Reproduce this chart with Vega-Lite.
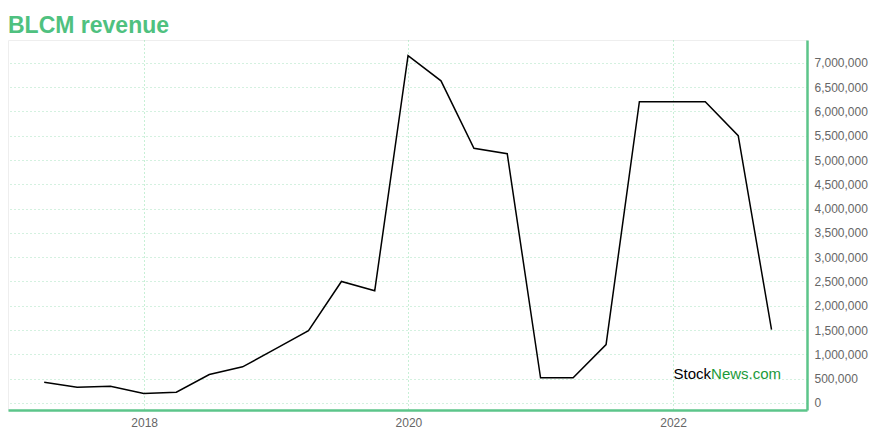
{
  "$schema": "https://vega.github.io/schema/vega-lite/v6.json",
  "width": 799,
  "height": 370,
  "autosize": "none",
  "padding": {"left": 8, "top": 40, "right": 73, "bottom": 30},
  "background": "white",
  "title": {
    "text": "BLCM revenue",
    "anchor": "start",
    "frame": "group",
    "fontSize": 23,
    "fontWeight": "bold",
    "font": "Liberation Sans",
    "color": "#4fc17f",
    "offset": 2
  },
  "config": {
    "view": {"stroke": "#eeeeee", "strokeWidth": 1},
    "font": "Liberation Sans"
  },
  "encoding": {
    "x": {
      "field": "date",
      "type": "temporal",
      "title": null,
      "scale": {"domain": ["2016-12-21", "2023-01-06"]},
      "axis": {
        "orient": "bottom",
        "values": [{"year": 2018, "month": 1, "date": 1}, {"year": 2020, "month": 1, "date": 1}, {"year": 2022, "month": 1, "date": 1}],
        "format": "%Y",
        "domainColor": "#5cc58a",
        "domainWidth": 2.5,
        "ticks": false,
        "labelColor": "#666666",
        "labelFontSize": 12,
        "labelPadding": 7,
        "grid": true,
        "gridColor": "#8fe0ad",
        "gridDash": [1, 3],
        "gridWidth": 1
      }
    },
    "y": {
      "field": "revenue",
      "type": "quantitative",
      "title": null,
      "scale": {"domain": [-145000, 7470000], "nice": false, "zero": false},
      "axis": {
        "orient": "right",
        "values": [0, 500000, 1000000, 1500000, 2000000, 2500000, 3000000, 3500000, 4000000, 4500000, 5000000, 5500000, 6000000, 6500000, 7000000],
        "format": ",.0f",
        "domainColor": "#5cc58a",
        "domainWidth": 2.5,
        "ticks": false,
        "labelColor": "#666666",
        "labelFontSize": 12,
        "labelPadding": 7,
        "grid": true,
        "gridColor": "#a8e3c0",
        "gridDash": [1, 3],
        "gridWidth": 1
      }
    }
  },
  "layer": [
    {
      "data": {
        "values": [
          {"date": "2017-03-31", "revenue": 427000},
          {"date": "2017-06-30", "revenue": 324000},
          {"date": "2017-09-30", "revenue": 345000},
          {"date": "2017-12-31", "revenue": 195000},
          {"date": "2018-03-31", "revenue": 222000},
          {"date": "2018-06-30", "revenue": 585000},
          {"date": "2018-09-30", "revenue": 743000},
          {"date": "2018-12-31", "revenue": 1117000},
          {"date": "2019-03-31", "revenue": 1490000},
          {"date": "2019-06-30", "revenue": 2500000},
          {"date": "2019-09-30", "revenue": 2310000},
          {"date": "2019-12-31", "revenue": 7150000},
          {"date": "2020-03-31", "revenue": 6630000},
          {"date": "2020-06-30", "revenue": 5240000},
          {"date": "2020-09-30", "revenue": 5130000},
          {"date": "2020-12-31", "revenue": 517000},
          {"date": "2021-03-31", "revenue": 517000},
          {"date": "2021-06-30", "revenue": 1200000},
          {"date": "2021-09-30", "revenue": 6200000},
          {"date": "2021-12-31", "revenue": 6200000},
          {"date": "2022-03-31", "revenue": 6200000},
          {"date": "2022-06-30", "revenue": 5500000},
          {"date": "2022-09-30", "revenue": 1510000}
        ]
      },
      "mark": {"type": "line", "color": "#000000", "strokeWidth": 1.5}
    },
    {
      "data": {"values": [{"date": "2022-04-16", "revenue": 606000, "label": "Stock"}]},
      "mark": {"type": "text", "align": "right", "baseline": "middle", "fontSize": 15, "color": "#000000", "font": "Liberation Sans"},
      "encoding": {
        "text": {"field": "label"}
      }
    },
    {
      "data": {"values": [{"date": "2022-04-16", "revenue": 606000, "label": "News.com"}]},
      "mark": {"type": "text", "align": "left", "baseline": "middle", "fontSize": 15, "color": "#1a9a3a", "font": "Liberation Sans"},
      "encoding": {
        "text": {"field": "label"}
      }
    }
  ]
}
